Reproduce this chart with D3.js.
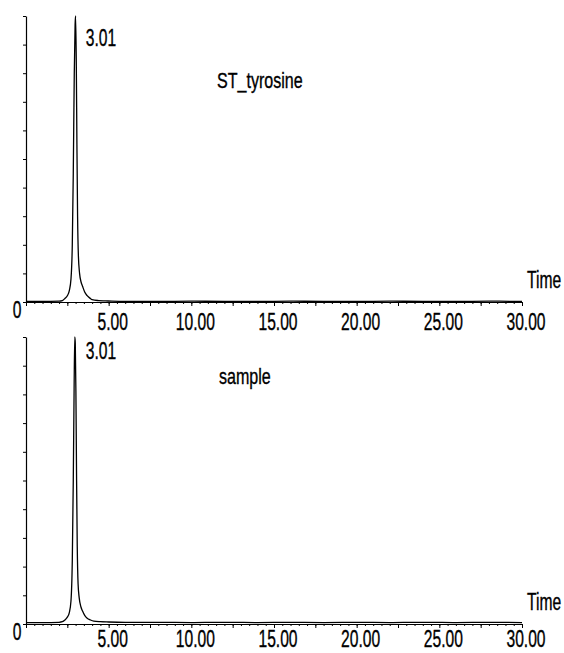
<!DOCTYPE html>
<html>
<head>
<meta charset="utf-8">
<script src="https://cdn.jsdelivr.net/npm/d3@7"></script>
<style>
  body { margin: 0; background: #fff; }
  text { font-family: "Liberation Sans", Arial, sans-serif; fill: #000; stroke: #000; stroke-width: 0.35px; }
</style>
</head>
<body>
<script>
// retention time (min) and relative intensity (%) for the standard run
var stdTimes = [0, 1, 2, 2.2, 2.35, 2.5, 2.62, 2.72, 2.8, 2.86, 2.92, 2.97, 3.0, 3.04, 3.08, 3.12, 3.17, 3.24, 3.33, 3.42, 3.55, 3.7, 3.9, 4.0, 4.4, 4.8, 5.2, 6, 8, 10, 12, 14, 16, 18, 20, 22, 24, 26, 28, 30];
var stdValues = [0.2, 0.2, 0.3, 0.5, 1.2, 2.2, 4, 8, 20, 45, 80, 97, 100, 85, 55, 30, 16, 10, 7, 5.5, 3.5, 2.2, 1.2, 0.8, 0.5, 0.4, 0.3, 0.2, 0.2, 0.3, 0.2, 0.2, 0.3, 0.2, 0.2, 0.3, 0.2, 0.2, 0.3, 0.2];
// sample run
var sampleTimes = [0, 1, 2, 2.2, 2.35, 2.5, 2.62, 2.72, 2.8, 2.86, 2.91, 2.95, 2.98, 3.02, 3.06, 3.1, 3.15, 3.22, 3.32, 3.42, 3.55, 3.7, 3.9, 4.1, 4.5, 5, 6, 8, 10, 12, 14, 16, 18, 20, 22, 24, 26, 28, 30];
var sampleValues = [0.5, 0.5, 0.6, 0.8, 1.4, 2.4, 4, 8, 22, 50, 82, 100, 98, 80, 50, 27, 14, 9, 6, 4.5, 3, 2, 1.4, 1, 0.8, 0.7, 0.6, 0.6, 0.5, 0.6, 0.5, 0.6, 0.5, 0.6, 0.5, 0.6, 0.5, 0.6, 0.5];

var panelTitles = ["ST_tyrosine", "sample"];
var peakLabels = ["3.01", "3.01"];
var xLabelValues = [5, 10, 15, 20, 25, 30];

var width = 564, height = 653;
var sx = 0.68; // condensed look of the original font

var svg = d3.select("body").append("svg")
  .attr("width", width)
  .attr("height", height);

var xScale = d3.scaleLinear().domain([0, 30]).range([26, 522]);

var panels = [
  { times: stdTimes, values: stdValues, top: 16, bottom: 302, title: panelTitles[0], peak: peakLabels[0], titleX: 217, titleY: 88, peakY: 46, labelY: 330 },
  { times: sampleTimes, values: sampleValues, top: 337, bottom: 624, title: panelTitles[1], peak: peakLabels[1], titleX: 219, titleY: 384, peakY: 359, labelY: 647 }
];

function addText(g, x, y, str, size, anchor, scaleX) {
  g.append("text")
    .attr("transform", "translate(" + x + "," + y + ") scale(" + (scaleX || sx) + ",1)")
    .attr("text-anchor", anchor || "start")
    .style("font-size", size + "px")
    .text(str);
}

panels.forEach(function(p) {
  var yScale = d3.scaleLinear().domain([0, 100]).range([p.bottom, p.top]);
  var g = svg.append("g");

  // minor x ticks every 0.5 min
  var xMinor = d3.axisBottom(xScale).tickValues(d3.range(0, 30.01, 0.5)).tickSize(2).tickSizeOuter(0).tickFormat("");
  g.append("g").attr("transform", "translate(0," + p.bottom + ")").call(xMinor);
  // longer ticks every 2.5 min
  var xMajor = d3.axisBottom(xScale).tickValues(d3.range(0, 30.01, 2.5)).tickSize(4).tickSizeOuter(0).tickFormat("");
  g.append("g").attr("transform", "translate(0," + p.bottom + ")").call(xMajor);

  // x labels
  xLabelValues.forEach(function(v) {
    addText(g, xScale(v) + 4, p.labelY, d3.format(".2f")(v), 23, "middle");
  });
  addText(g, 17, p.bottom + 16, "0", 23, "middle");

  // y axis, 10 divisions, no labels
  var yAxis = d3.axisLeft(yScale).tickValues(d3.range(0, 100.1, 10)).tickSize(3).tickSizeOuter(0).tickFormat("");
  g.append("g").attr("transform", "translate(" + xScale(0) + ",0)").call(yAxis);

  g.selectAll(".domain").attr("stroke", "#000").attr("stroke-width", 1.2);
  g.selectAll(".tick line").attr("stroke", "#000");

  // trace
  var pts = p.times.map(function(t, i) { return [t, p.values[i]]; });
  var line = d3.line()
    .x(function(d) { return xScale(d[0]); })
    .y(function(d) { return yScale(d[1]); })
    .curve(d3.curveMonotoneX);
  g.append("path")
    .datum(pts)
    .attr("d", line)
    .attr("fill", "none")
    .attr("stroke", "#000")
    .attr("stroke-width", 1.3);

  // labels
  addText(g, xScale(3.01) + 10, p.peakY, p.peak, 23);
  addText(g, p.titleX, p.titleY, p.title, 22, "start", 0.73);
  addText(g, 527, p.bottom - 14, "Time", 23);
});
</script>
</body>
</html>
